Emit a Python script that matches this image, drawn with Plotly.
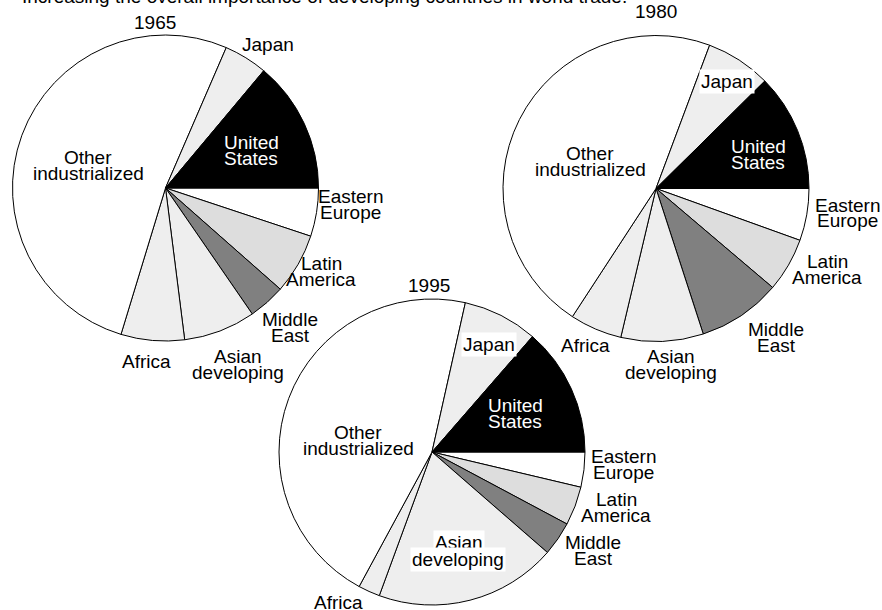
import plotly.graph_objects as go

W, H = 882, 610

regions = ["United States", "Japan", "Other industrialized", "Africa",
           "Asian developing", "Middle East", "Latin America", "Eastern Europe"]
shares_1965 = [13.9, 4.6, 51.8, 6.7, 7.6, 3.9, 6.4, 5.1]
shares_1980 = [12.4, 6.9, 46.5, 5.5, 8.7, 8.8, 5.7, 5.5]
shares_1995 = [13.6, 7.9, 45.6, 2.3, 19.2, 3.6, 4.1, 3.7]
slice_colors = ["#000000", "#eeeeee", "#ffffff", "#eeeeee",
                "#eeeeee", "#808080", "#dddddd", "#ffffff"]
title_text = "Increasing the overall importance of developing countries in world trade."

FONT = "Liberation Sans, Arial, sans-serif"
FS = 19
LS = 16
R = 153


def dom(cx, cy):
    return dict(x=[(cx - R) / W, (cx + R) / W], y=[1 - (cy + R) / H, 1 - (cy - R) / H])


fig = go.Figure()
for vals, (cx, cy) in [(shares_1965, (165.5, 188)), (shares_1980, (656, 188.5)),
                       (shares_1995, (432, 452))]:
    # slices laid out clockwise from 3 o'clock, i.e. the listed order runs counterclockwise
    fig.add_trace(go.Pie(
        labels=regions[::-1], values=vals[::-1], sort=False, direction="clockwise",
        rotation=90, textinfo="none", hoverinfo="label+percent",
        marker=dict(colors=slice_colors[::-1], line=dict(color="#000000", width=1)),
        domain=dom(cx, cy), showlegend=False))

anns = []


def lab(text, x, y, color="#000000", bg=None):
    lines = text.split("\n")
    n = len(lines)
    for i, ln in enumerate(lines):
        yy = y + (i - (n - 1) / 2) * LS
        d = dict(text=ln, x=x / W, y=1 - yy / H, xref="paper", yref="paper",
                 showarrow=False, xanchor="center", yanchor="middle",
                 font=dict(family=FONT, size=FS, color=color), align="center",
                 borderpad=1)
        if bg:
            d["bgcolor"] = bg
        anns.append(d)


# title (partly cut off at the top of the picture)
anns.append(dict(text=title_text, x=20 / W, y=1 - (-4) / H, xref="paper", yref="paper",
                 showarrow=False, xanchor="left", yanchor="middle",
                 font=dict(family=FONT, size=FS, color="#000000")))

# 1965
lab("1965", 155, 23)
lab("Japan", 268, 45)
lab("United\nStates", 251, 150, color="#ffffff")
lab("Other\nindustrialized", 88, 165)
lab("Eastern\nEurope", 350, 204)
lab("Latin\nAmerica", 321, 271)
lab("Middle\nEast", 290, 327)
lab("Asian\ndeveloping", 238, 364)
lab("Africa", 146, 361)

# 1980
lab("1980", 656, 12)
lab("Japan", 727, 81, bg="#ffffff")
lab("United\nStates", 758, 154, color="#ffffff")
lab("Other\nindustrialized", 590, 162)
lab("Eastern\nEurope", 847, 213)
lab("Latin\nAmerica", 827, 269)
lab("Middle\nEast", 776, 337)
lab("Asian\ndeveloping", 671, 364)
lab("Africa", 585, 345)

# 1995
lab("1995", 429, 285)
lab("Japan", 489, 344, bg="#ffffff")
lab("United\nStates", 515, 413, color="#ffffff")
lab("Other\nindustrialized", 358, 440)
lab("Eastern\nEurope", 623, 464)
lab("Latin\nAmerica", 616, 507)
lab("Middle\nEast", 593, 550)
lab("Asian", 459, 542, bg="#ffffff")
lab("developing", 458, 559, bg="#ffffff")
lab("Africa", 338, 602)

fig.update_layout(width=W, height=H, margin=dict(l=0, r=0, t=0, b=0),
                  paper_bgcolor="#ffffff", plot_bgcolor="#ffffff",
                  annotations=anns, font=dict(family=FONT))
fig.write_html("out.html", config={"displayModeBar": False},
               post_script="document.body.style.margin='0';document.body.style.overflow='hidden';")
